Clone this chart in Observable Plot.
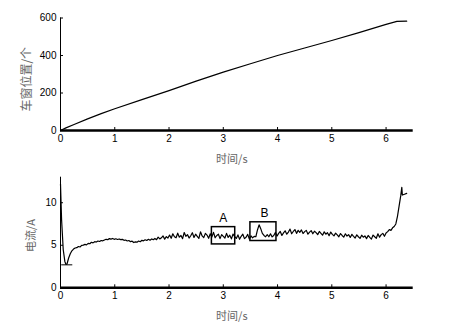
<!DOCTYPE html>
<html>
<head>
<meta charset="utf-8">
<script src="https://cdn.jsdelivr.net/npm/d3@7"></script>
<script src="https://cdn.jsdelivr.net/npm/@observablehq/plot@0.6"></script>
<style>
  body { margin: 0; background: #fff; }
  #wrap { width: 451px; height: 328px; position: relative; }
  #wrap svg { display: block; font-family: "Liberation Sans", Arial, sans-serif; }
</style>
</head>
<body>
<div id="wrap"></div>
<script>
// ---- Top panel: window position ----
const posTime  = [0, 0.1, 0.25, 0.5, 0.75, 1, 1.5, 2, 2.5, 3, 3.5, 4, 4.5, 5, 5.5, 6, 6.2, 6.38];
const posValue = [0, 14, 32, 62, 90, 116, 165, 213, 263, 311, 356, 400, 440, 480, 522, 566, 582, 583];
const posTicks = [0, 200, 400, 600];

// ---- Bottom panel: current ----
const curTime = [
  0, 0.02, 0.05, 0.08, 0.10, 0.12, 0.15, 0.18, 0.21,
  0.24,0.27,0.30,0.33,0.36,0.39,0.42,0.45,0.48,0.51,
  0.54,0.57,0.60,0.63,0.66,0.69,0.72,0.75,0.78,0.81,
  0.84,0.87,0.90,0.93,0.96,0.99,1.02,1.05,1.08,1.11,
  1.14,1.17,1.20,1.23,1.26,1.29,1.32,1.35,1.38,1.41,
  1.44,1.47,1.50,1.53,1.56,1.59,1.62,1.65,1.68,1.71,
  1.74,1.77,1.80,1.83,1.86,1.89,1.92,1.95,1.98,2.01,
  2.04,2.07,2.10,2.13,2.16,2.19,2.22,2.25,2.28,2.31,
  2.34,2.37,2.40,2.43,2.46,2.49,2.52,2.55,2.58,2.61,
  2.64,2.67,2.70,2.73,2.76,2.79,2.82,2.85,2.88,2.91,
  2.94,2.97,3.00,3.03,3.06,3.09,3.12,3.15,3.18,3.21,
  3.24,3.27,3.30,3.33,3.36,3.39,3.42,3.45,3.48,3.51,
  3.54,3.57,3.60,3.63,3.66,3.69,3.72,3.75,3.78,3.81,
  3.84,3.87,3.90,3.93,3.96,3.99,4.02,4.05,4.08,4.11,
  4.14,4.17,4.20,4.23,4.26,4.29,4.32,4.35,4.38,4.41,
  4.44,4.47,4.50,4.53,4.56,4.59,4.62,4.65,4.68,4.71,
  4.74,4.77,4.80,4.83,4.86,4.89,4.92,4.95,4.98,5.01,
  5.04,5.07,5.10,5.13,5.16,5.19,5.22,5.25,5.28,5.31,
  5.34,5.37,5.40,5.43,5.46,5.49,5.52,5.55,5.58,5.61,
  5.64,5.67,5.70,5.73,5.76,5.79,5.82,5.85,5.88,5.91,
  5.94,5.97,
  6.00,6.03,6.06,6.09,6.12,6.15,6.18,6.21,6.24,6.27,6.29,6.30,6.34,6.38
];
const curValue = [
  12.2, 8.0, 4.5, 3.1, 2.75, 2.8, 3.5, 4.0, 4.35,
  4.55,4.68,4.72,4.85,4.80,4.98,5.02,5.10,5.05,5.22,
  5.18,5.35,5.28,5.42,5.38,5.50,5.44,5.56,5.52,5.62,
  5.70,5.66,5.78,5.72,5.80,5.70,5.76,5.68,5.74,5.66,
  5.70,5.58,5.62,5.50,5.56,5.42,5.48,5.32,5.40,5.36,
  5.50,5.42,5.58,5.52,5.64,5.56,5.70,5.60,5.74,5.66,
  5.80,5.66,5.95,5.74,5.88,6.10,5.72,6.02,5.85,6.20,
  5.82,6.35,6.00,5.88,6.42,5.95,6.15,5.78,6.50,6.05,
  6.25,5.85,6.12,6.48,5.92,6.30,6.05,5.80,6.58,6.10,
  5.90,6.40,6.20,5.82,6.35,5.98,6.52,5.88,6.15,6.30,
  5.78,6.25,6.05,5.85,6.40,5.92,6.18,5.75,6.32,6.00,
  5.80,6.22,5.70,6.05,6.30,5.78,5.95,6.28,5.72,6.10,
  5.88,6.05,6.00,6.80,7.40,6.95,6.40,6.15,6.00,6.25,
  6.00,6.35,5.98,6.15,6.50,6.08,6.40,6.62,6.15,6.45,
  6.70,6.30,6.55,6.90,6.35,6.62,6.85,6.40,6.75,6.52,
  6.80,6.38,6.60,6.75,6.30,6.55,6.72,6.35,6.65,6.48,
  6.25,6.62,6.40,6.18,6.58,6.30,6.48,6.12,6.55,6.28,
  6.10,6.42,6.22,6.00,6.38,6.15,5.95,6.35,6.08,6.25,
  5.92,6.28,6.05,5.85,6.22,6.00,5.80,6.18,5.95,6.10,
  5.78,6.15,5.92,5.72,6.20,6.00,5.82,6.35,5.95,6.25,
  6.40,6.05,
  6.45,6.60,6.85,6.75,7.05,7.20,7.50,8.40,9.60,10.80,11.80,10.90,11.00,11.10
];
const floorTime  = [0.02, 0.21];
const floorValue = [2.7, 2.7];
const curTicks = [0, 5, 10];

// Annotation boxes A and B
const boxLabel = ["A", "B"];
const boxX1 = [2.79, 3.50];
const boxX2 = [3.22, 3.98];
const boxY1 = [5.1, 5.5];
const boxY2 = [7.13, 7.7];
const labelX = [3.0, 3.76];
const labelY = [8.2, 8.8];

const xTicks = [0, 1, 2, 3, 4, 5, 6];

const posData = posTime.map((t, i) => ({t, v: posValue[i]}));
const curData = curTime.map((t, i) => ({t, v: curValue[i]}));
const floorData = floorTime.map((t, i) => ({t, v: floorValue[i]}));
const boxes = boxLabel.map((l, i) => ({l, x1: boxX1[i], x2: boxX2[i], y1: boxY1[i], y2: boxY2[i], lx: labelX[i], ly: labelY[i]}));

const cjk = "'Noto Sans CJK SC', sans-serif";

function axesMarks(yTicks, ylabel, ylabelDx, ylabelDy, ylabelSize) {
  return [
    Plot.axisX(xTicks, {tickSize: 0, tickPadding: 4, fontSize: 10, fill: "#000", label: null}),
    Plot.axisY(yTicks, {tickSize: 0, tickPadding: 4, fontSize: 10, fill: "#000", label: null}),
    Plot.ruleX(xTicks, {x: d => d, y1: 0, y2: 0, insetTop: -3, stroke: "#000", strokeWidth: 1}),
    Plot.ruleY(yTicks, {y: d => d, x1: 0, x2: 0, insetRight: -3, stroke: "#000", strokeWidth: 1}),
    Plot.ruleX([0], {stroke: "#000", strokeWidth: 1}),
    Plot.ruleY([0], {stroke: "#000", strokeWidth: 2.5}),
    Plot.text(["时间/s"], {frameAnchor: "bottom", dx: -5, dy: 32, fontSize: 11, fill: "#666", fontFamily: cjk}),
    Plot.text([ylabel], {frameAnchor: "left", textAnchor: "middle", rotate: -90, dx: ylabelDx, dy: ylabelDy, fontSize: ylabelSize, fill: "#666", fontFamily: cjk})
  ];
}

const topChart = Plot.plot({
  width: 451, height: 165,
  marginLeft: 60, marginRight: 38.3, marginTop: 17.5, marginBottom: 35,
  x: {domain: [0, 6.5], axis: null},
  y: {domain: [0, 600], axis: null},
  marks: [
    Plot.line(posData, {x: "t", y: "v", stroke: "#000", strokeWidth: 1.2}),
    ...axesMarks(posTicks, "车窗位置/个", -33, 5, 12)
  ]
});

const bottomChart = Plot.plot({
  width: 451, height: 163,
  marginLeft: 60, marginRight: 38.3, marginTop: 11.7, marginBottom: 40.7,
  x: {domain: [0, 6.5], axis: null},
  y: {domain: [0, 13], axis: null},
  marks: [
    Plot.line(curData, {x: "t", y: "v", stroke: "#000", strokeWidth: 1.2}),
    Plot.line(floorData, {x: "t", y: "v", stroke: "#000", strokeWidth: 1}),
    Plot.rect(boxes, {x1: "x1", x2: "x2", y1: "y1", y2: "y2", fill: "none", stroke: "#000", strokeWidth: 1.5}),
    Plot.text(boxes, {x: "lx", y: "ly", text: "l", fontSize: 12, fill: "#000"}),
    ...axesMarks(curTicks, "电流/A", -29, 3, 11)
  ]
});

const wrap = document.getElementById("wrap");
wrap.appendChild(topChart);
wrap.appendChild(bottomChart);
</script>
</body>
</html>
